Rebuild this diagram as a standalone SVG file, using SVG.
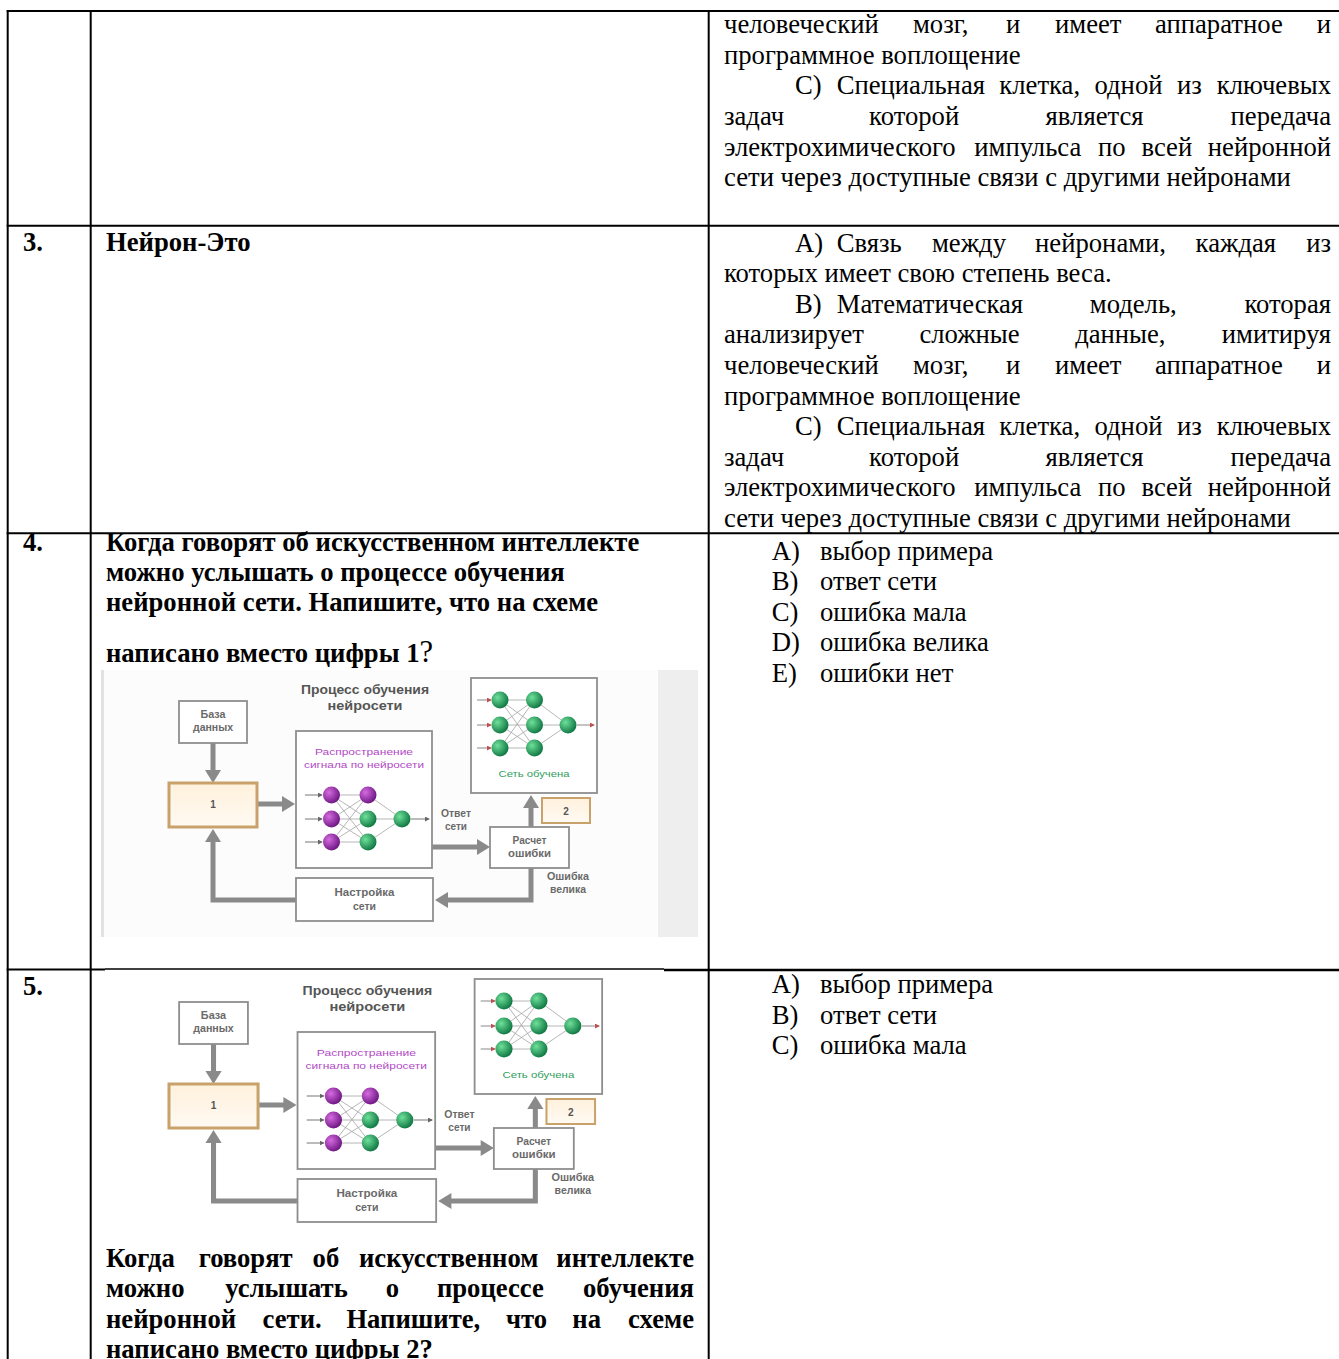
<svg xmlns="http://www.w3.org/2000/svg" width="1339" height="1359" viewBox="0 0 1339 1359">
<defs>
<style>
.t{font-family:"Liberation Serif","Times New Roman",serif;font-size:26.67px;fill:#000}
.b{font-weight:bold}
.e{text-anchor:end}
.grid line{stroke:#000;stroke-width:2}
.s{font-family:"Liberation Sans","Open Sans",Arial,sans-serif;font-weight:bold;font-size:10px;fill:#6a6a6a;text-anchor:middle}
.ttl{font-size:12.5px;fill:#555}
.pur{fill:#b24ac6;font-weight:normal;font-size:9px}
.grn{fill:#2f9e5c;font-weight:normal;font-size:9px}
.box{fill:#fff;stroke:#8e8e8e;stroke-width:1.8}
.num{fill:url(#numfill);stroke:#c8a26a;stroke-width:3}
.flow{stroke:#8a8a8a;stroke-width:5;fill:none}
.head{fill:#8a8a8a}
.syn{stroke:#a4a4a4;stroke-width:0.8;fill:none}
.in{stroke:#777;stroke-width:1;fill:none;marker-end:url(#ah)}
.out{stroke:#888;stroke-width:1;fill:none;marker-end:url(#ar)}
.np{fill:url(#gp)}
.ng{fill:url(#gg)}
</style>
<radialGradient id="gp" cx="0.35" cy="0.35" r="0.7"><stop offset="0" stop-color="#d56be0"/><stop offset="1" stop-color="#6b1480"/></radialGradient>
<radialGradient id="gg" cx="0.35" cy="0.35" r="0.7"><stop offset="0" stop-color="#6fe09a"/><stop offset="1" stop-color="#0c7440"/></radialGradient>
<linearGradient id="numfill" x1="0" y1="0" x2="0" y2="1"><stop offset="0" stop-color="#fff1dc"/><stop offset="1" stop-color="#fffaf3"/></linearGradient>
<marker id="ah" viewBox="0 0 6 6" refX="5" refY="3" markerWidth="5" markerHeight="5" orient="auto"><path d="M0,0L6,3L0,6z" fill="#666"/></marker>
<marker id="ar" viewBox="0 0 6 6" refX="5" refY="3" markerWidth="5" markerHeight="5" orient="auto"><path d="M0,0L6,3L0,6z" fill="#c0504d"/></marker>
</defs>
<rect x="0" y="0" width="1339" height="1359" fill="#fff"/>

<g id="q4-image-bg">
<rect x="101" y="670" width="597" height="267" fill="#fcfcfc"/>
<rect x="658" y="670" width="40" height="267" fill="#eeeeee"/>
<rect x="101" y="670" width="3" height="267" fill="#e2e2e2"/>
</g>

<g id="table-grid" class="grid">
<line x1="6.7" y1="11" x2="1339" y2="11"/>
<line x1="7.7" y1="10" x2="7.7" y2="1359"/>
<line x1="90.7" y1="10" x2="90.7" y2="1359"/>
<line x1="708.7" y1="10" x2="708.7" y2="1359"/>
<line x1="6.7" y1="225.7" x2="1339" y2="225.7"/>
<line x1="6.7" y1="533.3" x2="1339" y2="533.3"/>
<line x1="6.7" y1="969.5" x2="105" y2="969.5"/>
<line x1="105" y1="969" x2="664" y2="969" style="stroke-width:1.3"/>
<line x1="664" y1="970" x2="1339" y2="970" style="stroke-width:2.5"/>
</g>

<!-- Scheme in question 4 -->
<g id="scheme-q4">
<g id="q4-connectors">
<path class="flow" d="M213 743V771"/><path class="head" d="M205 770H221L213 783Z"/>
<path class="flow" d="M257 804H283"/><path class="head" d="M282 796V812L295 804Z"/>
<path class="flow" d="M432 847H478"/><path class="head" d="M477 839V855L490 847Z"/>
<path class="flow" d="M531 827V807"/><path class="head" d="M523 808H539L531 795Z"/>
<path class="flow" d="M531 868V900H447"/><path class="head" d="M448 892V908L435 900Z"/>
<path class="flow" d="M296 900H213V841"/><path class="head" d="M205 842H221L213 829Z"/>
</g>
<g id="q4-title">
<text class="s ttl" x="365" y="694" textLength="128" lengthAdjust="spacingAndGlyphs">Процесс обучения</text>
<text class="s ttl" x="365" y="710" textLength="75" lengthAdjust="spacingAndGlyphs">нейросети</text>
</g>
<g id="q4-database">
<rect class="box" x="179" y="701" width="68" height="42"/>
<text class="s" x="213" y="718" textLength="25" lengthAdjust="spacingAndGlyphs">База</text>
<text class="s" x="213" y="731" textLength="40" lengthAdjust="spacingAndGlyphs">данных</text>
</g>
<g id="q4-box1">
<rect class="num" x="169" y="783" width="88" height="44"/>
<text class="s" x="213" y="808" style="fill:#555">1</text>
</g>
<g id="q4-propagation">
<rect class="box" x="296" y="731" width="136" height="137"/>
<text class="s pur" x="364" y="755" textLength="98" lengthAdjust="spacingAndGlyphs">Распространение</text>
<text class="s pur" x="364" y="768" textLength="120" lengthAdjust="spacingAndGlyphs">сигнала по нейросети</text>
<path class="syn" d="M331.5 795L368 795M331.5 795L368 819M331.5 795L368 842M331.5 819L368 795M331.5 819L368 819M331.5 819L368 842M331.5 842L368 795M331.5 842L368 819M331.5 842L368 842M368 795L402 819M368 819L402 819M368 842L402 819"/>
<path class="in" d="M305 795H322"/><path class="in" d="M305 819H322"/><path class="in" d="M305 842H322"/>
<path class="in" d="M411 819H429"/>
<circle class="np" cx="331.5" cy="795" r="8.5"/><circle class="np" cx="331.5" cy="819" r="8.5"/><circle class="np" cx="331.5" cy="842" r="8.5"/>
<circle class="np" cx="368" cy="795" r="8.5"/><circle class="ng" cx="368" cy="819" r="8.5"/><circle class="ng" cx="368" cy="842" r="8.5"/>
<circle class="ng" cx="402" cy="819" r="8.5"/>
</g>
<g id="q4-answer">
<text class="s" x="456" y="817" textLength="30" lengthAdjust="spacingAndGlyphs">Ответ</text>
<text class="s" x="456" y="830" textLength="22" lengthAdjust="spacingAndGlyphs">сети</text>
</g>
<g id="q4-error-calc">
<rect class="box" x="490" y="827" width="79" height="41"/>
<text class="s" x="529.5" y="844" textLength="34" lengthAdjust="spacingAndGlyphs">Расчет</text>
<text class="s" x="529.5" y="857" textLength="43" lengthAdjust="spacingAndGlyphs">ошибки</text>
</g>
<g id="q4-box2">
<rect class="num" x="542" y="798" width="48" height="25" style="stroke-width:2"/>
<text class="s" x="566" y="815" style="fill:#555">2</text>
</g>
<g id="q4-trained">
<rect class="box" x="471" y="678" width="126" height="115"/>
<path class="syn" d="M500 700L534.5 700M500 700L534.5 725M500 700L534.5 748M500 725L534.5 700M500 725L534.5 725M500 725L534.5 748M500 748L534.5 700M500 748L534.5 725M500 748L534.5 748M534.5 700L568 725M534.5 725L568 725M534.5 748L568 725"/>
<path class="out" d="M477 700H491"/><path class="out" d="M477 725H491"/><path class="out" d="M477 748H491"/>
<path class="out" d="M577 725H594"/>
<circle class="ng" cx="500" cy="700" r="8.5"/><circle class="ng" cx="500" cy="725" r="8.5"/><circle class="ng" cx="500" cy="748" r="8.5"/>
<circle class="ng" cx="534.5" cy="700" r="8.5"/><circle class="ng" cx="534.5" cy="725" r="8.5"/><circle class="ng" cx="534.5" cy="748" r="8.5"/>
<circle class="ng" cx="568" cy="725" r="8.5"/>
<text class="s grn" x="534" y="777" textLength="71" lengthAdjust="spacingAndGlyphs">Сеть обучена</text>
</g>
<g id="q4-error-big">
<text class="s" x="568" y="880" textLength="42" lengthAdjust="spacingAndGlyphs">Ошибка</text>
<text class="s" x="568" y="893" textLength="36" lengthAdjust="spacingAndGlyphs">велика</text>
</g>
<g id="q4-tuning">
<rect class="box" x="296" y="878" width="137" height="43"/>
<text class="s" x="364.5" y="896" textLength="60" lengthAdjust="spacingAndGlyphs">Настройка</text>
<text class="s" x="364.5" y="910" textLength="23" lengthAdjust="spacingAndGlyphs">сети</text>
</g>
</g>

<!-- Scheme in question 5 -->
<g id="scheme-q5" transform="matrix(1.012 0 0 1 -2.03 301)">
<g id="q5-connectors">
<path class="flow" d="M213 743V771"/><path class="head" d="M205 770H221L213 783Z"/>
<path class="flow" d="M257 804H283"/><path class="head" d="M282 796V812L295 804Z"/>
<path class="flow" d="M432 847H478"/><path class="head" d="M477 839V855L490 847Z"/>
<path class="flow" d="M531 827V807"/><path class="head" d="M523 808H539L531 795Z"/>
<path class="flow" d="M531 868V900H447"/><path class="head" d="M448 892V908L435 900Z"/>
<path class="flow" d="M296 900H213V841"/><path class="head" d="M205 842H221L213 829Z"/>
</g>
<g id="q5-title">
<text class="s ttl" x="365" y="694" textLength="128" lengthAdjust="spacingAndGlyphs">Процесс обучения</text>
<text class="s ttl" x="365" y="710" textLength="75" lengthAdjust="spacingAndGlyphs">нейросети</text>
</g>
<g id="q5-database">
<rect class="box" x="179" y="701" width="68" height="42"/>
<text class="s" x="213" y="718" textLength="25" lengthAdjust="spacingAndGlyphs">База</text>
<text class="s" x="213" y="731" textLength="40" lengthAdjust="spacingAndGlyphs">данных</text>
</g>
<g id="q5-box1">
<rect class="num" x="169" y="783" width="88" height="44"/>
<text class="s" x="213" y="808" style="fill:#555">1</text>
</g>
<g id="q5-propagation">
<rect class="box" x="296" y="731" width="136" height="137"/>
<text class="s pur" x="364" y="755" textLength="98" lengthAdjust="spacingAndGlyphs">Распространение</text>
<text class="s pur" x="364" y="768" textLength="120" lengthAdjust="spacingAndGlyphs">сигнала по нейросети</text>
<path class="syn" d="M331.5 795L368 795M331.5 795L368 819M331.5 795L368 842M331.5 819L368 795M331.5 819L368 819M331.5 819L368 842M331.5 842L368 795M331.5 842L368 819M331.5 842L368 842M368 795L402 819M368 819L402 819M368 842L402 819"/>
<path class="in" d="M305 795H322"/><path class="in" d="M305 819H322"/><path class="in" d="M305 842H322"/>
<path class="in" d="M411 819H429"/>
<circle class="np" cx="331.5" cy="795" r="8.5"/><circle class="np" cx="331.5" cy="819" r="8.5"/><circle class="np" cx="331.5" cy="842" r="8.5"/>
<circle class="np" cx="368" cy="795" r="8.5"/><circle class="ng" cx="368" cy="819" r="8.5"/><circle class="ng" cx="368" cy="842" r="8.5"/>
<circle class="ng" cx="402" cy="819" r="8.5"/>
</g>
<g id="q5-answer">
<text class="s" x="456" y="817" textLength="30" lengthAdjust="spacingAndGlyphs">Ответ</text>
<text class="s" x="456" y="830" textLength="22" lengthAdjust="spacingAndGlyphs">сети</text>
</g>
<g id="q5-error-calc">
<rect class="box" x="490" y="827" width="79" height="41"/>
<text class="s" x="529.5" y="844" textLength="34" lengthAdjust="spacingAndGlyphs">Расчет</text>
<text class="s" x="529.5" y="857" textLength="43" lengthAdjust="spacingAndGlyphs">ошибки</text>
</g>
<g id="q5-box2">
<rect class="num" x="542" y="798" width="48" height="25" style="stroke-width:2"/>
<text class="s" x="566" y="815" style="fill:#555">2</text>
</g>
<g id="q5-trained">
<rect class="box" x="471" y="678" width="126" height="115"/>
<path class="syn" d="M500 700L534.5 700M500 700L534.5 725M500 700L534.5 748M500 725L534.5 700M500 725L534.5 725M500 725L534.5 748M500 748L534.5 700M500 748L534.5 725M500 748L534.5 748M534.5 700L568 725M534.5 725L568 725M534.5 748L568 725"/>
<path class="out" d="M477 700H491"/><path class="out" d="M477 725H491"/><path class="out" d="M477 748H491"/>
<path class="out" d="M577 725H594"/>
<circle class="ng" cx="500" cy="700" r="8.5"/><circle class="ng" cx="500" cy="725" r="8.5"/><circle class="ng" cx="500" cy="748" r="8.5"/>
<circle class="ng" cx="534.5" cy="700" r="8.5"/><circle class="ng" cx="534.5" cy="725" r="8.5"/><circle class="ng" cx="534.5" cy="748" r="8.5"/>
<circle class="ng" cx="568" cy="725" r="8.5"/>
<text class="s grn" x="534" y="777" textLength="71" lengthAdjust="spacingAndGlyphs">Сеть обучена</text>
</g>
<g id="q5-error-big">
<text class="s" x="568" y="880" textLength="42" lengthAdjust="spacingAndGlyphs">Ошибка</text>
<text class="s" x="568" y="893" textLength="36" lengthAdjust="spacingAndGlyphs">велика</text>
</g>
<g id="q5-tuning">
<rect class="box" x="296" y="878" width="137" height="43"/>
<text class="s" x="364.5" y="896" textLength="60" lengthAdjust="spacingAndGlyphs">Настройка</text>
<text class="s" x="364.5" y="910" textLength="23" lengthAdjust="spacingAndGlyphs">сети</text>
</g>
</g>

<!-- Row 2 (continued), answer column -->
<g id="row2-answers" class="t">
<text y="33.3"><tspan x="724">человеческий</tspan><tspan x="913">мозг,</tspan><tspan x="1006">и</tspan><tspan x="1055">имеет</tspan><tspan x="1155">аппаратное</tspan></text>
<text class="e" x="1331" y="33.3">и</text>
<text x="724" y="63.9">программное воплощение</text>
<text y="94.4"><tspan x="795">C)</tspan><tspan x="836.7">Специальная</tspan><tspan x="999.3">клетка,</tspan><tspan x="1094.5">одной</tspan><tspan x="1176.9">из</tspan></text>
<text class="e" x="1331" y="94.4">ключевых</text>
<text y="125"><tspan x="724">задач</tspan><tspan x="869.1">которой</tspan><tspan x="1045.6">является</tspan></text>
<text class="e" x="1331" y="125">передача</text>
<text y="155.5"><tspan x="724">электрохимического</tspan><tspan x="974.3">импульса</tspan><tspan x="1098">по</tspan><tspan x="1141.5">всей</tspan></text>
<text class="e" x="1331" y="155.5">нейронной</text>
<text x="724" y="186.1">сети через доступные связи с другими нейронами</text>
</g>

<!-- Row 3 -->
<g id="row3-number" class="t b"><text x="23" y="250.7">3.</text></g>
<g id="row3-question" class="t b"><text x="106" y="250.7">Нейрон-Это</text></g>
<g id="row3-answers" class="t">
<text y="251.7"><tspan x="795">A)</tspan><tspan x="836.7">Связь</tspan><tspan x="932">между</tspan><tspan x="1035.1">нейронами,</tspan><tspan x="1195.6">каждая</tspan></text>
<text class="e" x="1331" y="251.7">из</text>
<text x="724" y="282.3">которых имеет свою степень веса.</text>
<text y="312.8"><tspan x="795">B)</tspan><tspan x="836.7">Математическая</tspan><tspan x="1089.8">модель,</tspan></text>
<text class="e" x="1331" y="312.8">которая</text>
<text y="343.4"><tspan x="724">анализирует</tspan><tspan x="919.4">сложные</tspan><tspan x="1075.2">данные,</tspan></text>
<text class="e" x="1331" y="343.4">имитируя</text>
<text y="373.9"><tspan x="724">человеческий</tspan><tspan x="913">мозг,</tspan><tspan x="1006">и</tspan><tspan x="1055">имеет</tspan><tspan x="1155">аппаратное</tspan></text>
<text class="e" x="1331" y="373.9">и</text>
<text x="724" y="404.5">программное воплощение</text>
<text y="435"><tspan x="795">C)</tspan><tspan x="836.7">Специальная</tspan><tspan x="999.3">клетка,</tspan><tspan x="1094.5">одной</tspan><tspan x="1176.9">из</tspan></text>
<text class="e" x="1331" y="435">ключевых</text>
<text y="465.6"><tspan x="724">задач</tspan><tspan x="869.1">которой</tspan><tspan x="1045.6">является</tspan></text>
<text class="e" x="1331" y="465.6">передача</text>
<text y="496.1"><tspan x="724">электрохимического</tspan><tspan x="974.3">импульса</tspan><tspan x="1098">по</tspan><tspan x="1141.5">всей</tspan></text>
<text class="e" x="1331" y="496.1">нейронной</text>
<text x="724" y="526.7">сети через доступные связи с другими нейронами</text>
</g>

<!-- Row 4 -->
<g id="row4-number" class="t b"><text x="23" y="550.7">4.</text></g>
<g id="row4-question" class="t b">
<text x="106" y="550.7">Когда говорят об искусственном интеллекте</text>
<text x="106" y="581">можно услышать о процессе обучения</text>
<text x="106" y="611.3">нейронной сети. Напишите, что на схеме</text>
<text x="106" y="661.7">написано вместо цифры 1<tspan style="font-weight:normal;font-size:30.5px">?</tspan></text>
</g>
<g id="row4-answers" class="t">
<text x="771.7" y="560">A)</text><text x="820" y="560">выбор примера</text>
<text x="771.7" y="590">B)</text><text x="820" y="590">ответ сети</text>
<text x="771.7" y="620.5">C)</text><text x="820" y="620.5">ошибка мала</text>
<text x="771.7" y="651">D)</text><text x="820" y="651">ошибка велика</text>
<text x="771.7" y="681.5">E)</text><text x="820" y="681.5">ошибки нет</text>
</g>

<!-- Row 5 -->
<g id="row5-number" class="t b"><text x="23" y="995">5.</text></g>
<g id="row5-question" class="t b">
<text y="1266.7"><tspan x="106">Когда</tspan><tspan x="198.7">говорят</tspan><tspan x="312.6">об</tspan><tspan x="359">искусственном</tspan></text>
<text class="e" x="694" y="1266.7">интеллекте</text>
<text y="1297"><tspan x="106">можно</tspan><tspan x="225.3">услышать</tspan><tspan x="385.7">о</tspan><tspan x="436.9">процессе</tspan></text>
<text class="e" x="694" y="1297">обучения</text>
<text y="1327.5"><tspan x="106">нейронной</tspan><tspan x="262.6">сети.</tspan><tspan x="346.4">Напишите,</tspan><tspan x="506">что</tspan><tspan x="572.3">на</tspan></text>
<text class="e" x="694" y="1327.5">схеме</text>
<text x="106" y="1358">написано вместо цифры 2?</text>
</g>
<g id="row5-answers" class="t">
<text x="771.7" y="993">A)</text><text x="820" y="993">выбор примера</text>
<text x="771.7" y="1023.5">B)</text><text x="820" y="1023.5">ответ сети</text>
<text x="771.7" y="1054">C)</text><text x="820" y="1054">ошибка мала</text>
</g>
</svg>
